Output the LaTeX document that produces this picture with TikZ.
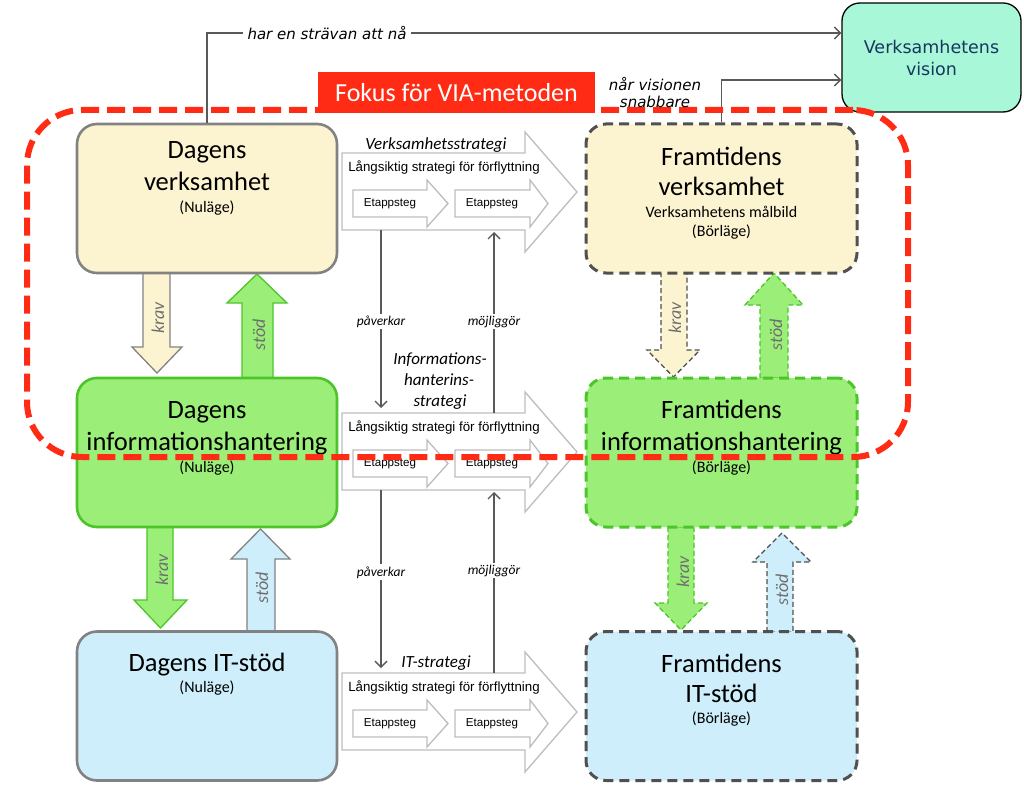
\documentclass[tikz,border=0pt]{standalone}
\usepackage{fontspec}
\setmainfont{Carlito}
\newfontfamily\arialf{Liberation Sans}
\newfontfamily\verdf{DejaVu Sans}
\usetikzlibrary{arrows.meta}
\definecolor{boxyellow}{HTML}{FCF4D0}
\definecolor{boxgreen}{HTML}{9BEE78}
\definecolor{boxblue}{HTML}{CDEEFA}
\definecolor{bordergray}{HTML}{828282}
\definecolor{dashgray}{HTML}{505050}
\definecolor{greenborder}{HTML}{4CC52A}
\definecolor{mint}{HTML}{A8F7D8}
\definecolor{visiontext}{HTML}{17375E}
\definecolor{focusred}{HTML}{FF2B14}
\definecolor{arrowgray}{HTML}{BDBDBD}
\definecolor{linegray}{HTML}{595959}
\definecolor{labelgray}{HTML}{6E6E6E}
\pgfdeclarelayer{bg}
\pgfsetlayers{bg,main}
% block arrow: style, x1, x2, hx1, hx2, yend, ybase, ytip
\newcommand\mkblockarrow[8]{%
  \draw[#1] (#2,#6) -- (#2,#7) -- (#4,#7) -- ({(#4+#5)/2},#8) -- (#5,#7) -- (#3,#7) -- (#3,#6) -- cycle;}
% strategy arrow: top y, name prefix
\newcommand\mkstrat[2]{%
  \draw[stratline] (342,#1) -- (525,#1) -- (525,#1-21) -- (577,#1+39) -- (525,#1+99) -- (525,#1+77) -- (342,#1+77) -- cycle;
  \draw[stratline] (353,#1+37) -- (427,#1+37) -- (427,#1+27) -- (448,#1+50.5) -- (427,#1+74) -- (427,#1+64) -- (353,#1+64) -- cycle;
  \draw[stratline] (455,#1+37) -- (530,#1+37) -- (530,#1+27) -- (548,#1+50.5) -- (530,#1+74) -- (530,#1+64) -- (455,#1+64) -- cycle;
  \node[longtxt] (#2-long) at (444,#1+14.5) {Långsiktig strategi för förflyttning};
  \node[etaptxt] (#2-e1) at (390,#1+50.5) {Etappsteg};
  \node[etaptxt] (#2-e2) at (492,#1+50.5) {Etappsteg};
  \coordinate (#2-bl) at (381,#1+77);
  \coordinate (#2-tl) at (381,#1);
  \coordinate (#2-br) at (494,#1+77);
  \coordinate (#2-tr) at (494,#1);}
\begin{document}
\begin{tikzpicture}[x=1pt,y=-1pt,
  every node/.style={inner sep=0pt},
  boxbase/.style={rectangle,rounded corners=20pt,minimum width=260pt,minimum height=149pt,line width=2.6pt},
  dagY/.style={boxbase,fill=boxyellow,draw=bordergray},
  dagG/.style={boxbase,fill=boxgreen,draw=greenborder},
  dagB/.style={boxbase,fill=boxblue,draw=bordergray},
  framY/.style={boxbase,minimum width=271pt,fill=boxyellow,draw=dashgray,dash pattern=on 10pt off 6pt,line width=3pt},
  framG/.style={boxbase,minimum width=271pt,fill=boxgreen,draw=greenborder,dash pattern=on 10pt off 6pt,line width=3pt},
  framB/.style={boxbase,minimum width=271pt,fill=boxblue,draw=dashgray,dash pattern=on 10pt off 6pt,line width=3pt},
  bigtxt/.style={anchor=base,font=\fontsize{26.5}{30}\selectfont},
  smalltxt/.style={anchor=base,font=\fontsize{16}{19}\selectfont},
  longtxt/.style={font=\arialf\fontsize{13.3}{15}\selectfont},
  etaptxt/.style={font=\arialf\fontsize{11.6}{14}\selectfont},
  strattxt/.style={anchor=base,font=\itshape\fontsize{17}{20}\selectfont},
  smalllbl/.style={fill=white,inner sep=2pt,font=\itshape\fontsize{13.5}{16}\selectfont},
  rottxt/.style={rotate=90,font=\itshape\fontsize{18}{20}\selectfont,text=labelgray},
  stratline/.style={draw=arrowgray,fill=white,line width=1.3pt,line join=miter},
  conn/.style={draw=linegray,line width=1.4pt,-{Straight Barb[length=6pt,width=12pt]}},
  arY/.style={fill=boxyellow,draw=bordergray,line width=1.3pt},
  arG/.style={fill=boxgreen,draw=greenborder,line width=1.3pt},
  arB/.style={fill=boxblue,draw=bordergray,line width=1.3pt},
  arYd/.style={arY,draw=dashgray,dash pattern=on 5pt off 3pt},
  arGd/.style={arG,dash pattern=on 5pt off 3pt},
  arBd/.style={arB,draw=dashgray,dash pattern=on 5pt off 3pt},
]
\useasboundingbox (0,0) rectangle (1024,794);

% boxes
\node[dagY] (dv) at (207,198.5) {};
\node[dagG] (di) at (207,452.5) {};
\node[dagB] (dit) at (207,706) {};
\node[framY] (fv) at (721.5,198.5) {};
\node[framG] (fi) at (721.5,452.5) {};
\node[framB] (fit) at (721.5,706) {};
\node[rectangle,rounded corners=18pt,minimum width=179pt,minimum height=109pt,fill=mint,draw=black,line width=1.3pt,
      align=center,text=visiontext,font=\verdf\fontsize{17.5}{22}\selectfont] (vis) at (931.5,57.5) {Verksamhetens\\vision};

% box texts
\node[bigtxt] (dv1) at (207,158.5) {Dagens};
\node[bigtxt] (dv2) at (207,190.5) {verksamhet};
\node[smalltxt] (dv3) at (207,213) {(Nuläge)};
\node[bigtxt] (di1) at (207,418.5) {Dagens};
\node[bigtxt] (di2) at (207,450.5) {informationshantering};
\node[smalltxt] (di3) at (207,472) {(Nuläge)};
\node[bigtxt] (dit1) at (207,671.5) {Dagens IT-stöd};
\node[smalltxt] (dit2) at (207,692.5) {(Nuläge)};
\node[bigtxt] (fv1) at (721.5,165.5) {Framtidens};
\node[bigtxt] (fv2) at (721.5,195.5) {verksamhet};
\node[smalltxt] (fv3) at (721.5,218) {Verksamhetens målbild};
\node[smalltxt] (fv4) at (721.5,236.5) {(Börläge)};
\node[bigtxt] (fi1) at (721.5,418.5) {Framtidens};
\node[bigtxt] (fi2) at (721.5,450.5) {informationshantering};
\node[smalltxt] (fi3) at (721.5,472) {(Börläge)};
\node[bigtxt] (fit1) at (721.5,672.5) {Framtidens};
\node[bigtxt] (fit2) at (721.5,702.5) {IT-stöd};
\node[smalltxt] (fit3) at (721.5,723.5) {(Börläge)};

\begin{pgfonlayer}{bg}
\fill[white] (0,0) rectangle (1024,794);
% krav / stöd arrows
\mkblockarrow{arY}{143}{170}{132}{182}{272}{347}{373}
\mkblockarrow{arG}{242}{273}{227}{287}{378}{303}{274}
\mkblockarrow{arG}{147}{173}{134}{187}{527}{600}{628}
\mkblockarrow{arB}{247}{275}{231}{290}{632}{559}{529}
\mkblockarrow{arYd}{661}{687}{647}{700}{272}{350}{377}
\mkblockarrow{arGd}{760}{788}{745}{803}{378}{305}{273}
\mkblockarrow{arGd}{668}{694}{655}{707}{527}{603}{630}
\mkblockarrow{arBd}{767}{793}{753}{811}{632}{562}{533}
\end{pgfonlayer}

\node[rottxt] (k1) at (158,318) {krav};
\node[rottxt] (s1t) at (259,335) {stöd};
\node[rottxt] (k2) at (162,570) {krav};
\node[rottxt] (s2t) at (262,588) {stöd};
\node[rottxt] (k3) at (675,318) {krav};
\node[rottxt] (s3t) at (776,335) {stöd};
\node[rottxt] (k4) at (683,572) {krav};
\node[rottxt] (s4t) at (782,590) {stöd};

% strategy arrows
\mkstrat{153}{sa}
\mkstrat{413}{sb}
\mkstrat{673}{sc}
\node[strattxt] (st1) at (436,149.5) {Verksamhetsstrategi};
\node[strattxt] (st2a) at (440,364) {Informations-};
\node[strattxt] (st2b) at (439,385) {hanterins-};
\node[strattxt] (st2c) at (440,406) {strategi};
\node[strattxt] (st3) at (436,667) {IT-strategi};

\draw[conn,shorten >=5pt] (sa-bl) -- node[smalllbl,pos=0.5] (p1) {påverkar} (sb-tl);
\draw[conn,shorten >=2pt] (sb-tr) -- node[smalllbl,pos=0.5] (m1) {möjliggör} (sa-br);
\draw[conn,shorten >=5pt] (sb-bl) -- node[smalllbl,pos=0.45] (p2) {påverkar} (sc-tl);
\draw[conn,shorten >=2pt] (sc-tr) -- node[smalllbl,pos=0.56] (m2) {möjliggör} (sb-br);

% top connectors
\coordinate (t1) at (207,33);
\coordinate (t2) at (721.5,80);
\draw[conn] (dv.north) -- (t1) -- (t1 -| vis.west);
\node[fill=white,inner sep=5pt,font=\verdf\itshape\fontsize{15}{18}\selectfont] (har) at (327,33) {har en strävan att nå};
\draw[conn] (fv.north) -- (t2) -- (t2 -| vis.west);

% focus region
\node[rectangle,rounded corners=55pt,minimum width=881pt,minimum height=347pt,draw=focusred,line width=6pt,
      dash pattern=on 18pt off 8pt] (focus) at (467.5,283.5) {};
\node[fill=focusred,minimum width=277pt,minimum height=41pt,text=white,font=\fontsize{26}{30}\selectfont] (fokus) at (456.5,92.5) {Fokus för VIA-metoden};
\node[align=center,font=\verdf\itshape\fontsize{15}{17}\selectfont] (snabb) at (655,93) {når visionen\\snabbare};
\end{tikzpicture}
\end{document}
